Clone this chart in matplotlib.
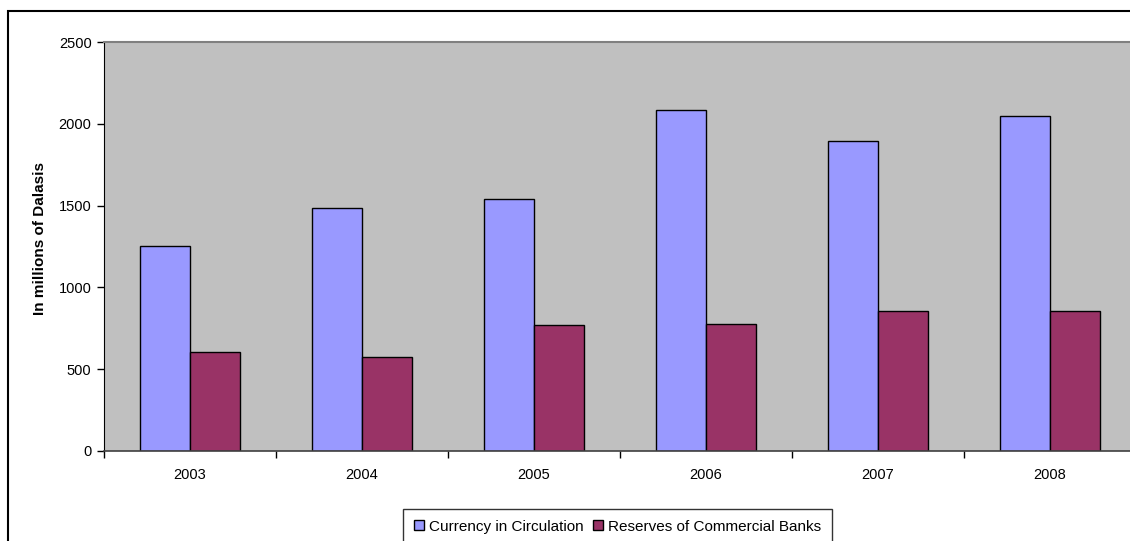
import numpy as np
import matplotlib.pyplot as plt
from matplotlib.patches import Rectangle

plt.rcParams['font.family'] = ['Liberation Sans', 'DejaVu Sans']

years = ['2003', '2004', '2005', '2006', '2007', '2008']
currency = [1255, 1483, 1540, 2084, 1895, 2046]
reserves = [603, 576, 770, 778, 856, 856]

W, H = 1130, 541
fig = plt.figure(figsize=(W / 100, H / 100), dpi=100)

# outer chart border (right and bottom edges fall outside the image)
fig.patches.append(Rectangle((8 / W, -0.05), 1.2, 1 - 11 / H + 0.05,
                             transform=fig.transFigure, fill=False,
                             edgecolor='black', linewidth=1.5))

ax = fig.add_axes([104 / W, 1 - 451 / H, 1032 / W, 409 / H])
ax.set_facecolor('#C0C0C0')

x = np.arange(len(years))
w = 0.288
ax.bar(x - w / 2, currency, w, color='#9999FF', edgecolor='black',
       linewidth=1.0, label='Currency in Circulation')
ax.bar(x + w / 2, reserves, w, color='#993366', edgecolor='black',
       linewidth=1.0, label='Reserves of Commercial Banks')

ax.set_xlim(-0.5, len(years) - 0.5)
ax.set_ylim(0, 2500)
ax.set_yticks(range(0, 2501, 500))

# major ticks on the category boundaries, labels at the centres
ax.set_xticks(np.arange(-0.5, len(years), 1.0))
ax.set_xticklabels([])
ax.set_xticks(x, minor=True)
ax.set_xticklabels(years, minor=True)
ax.tick_params(axis='x', which='minor', length=0, pad=12, labelsize=10.5)
ax.tick_params(axis='x', which='major', length=5, width=1, direction='out')
ax.tick_params(axis='y', length=5, width=1, direction='out', labelsize=10.5, pad=4)

for side in ['top', 'right']:
    ax.spines[side].set_color('#808080')
    ax.spines[side].set_linewidth(1.5)
ax.spines['left'].set_color('black')
ax.spines['bottom'].set_color('#404040')
ax.spines['bottom'].set_linewidth(1.2)

ax.set_ylabel('In millions of Dalasis', fontsize=11, fontweight='bold')
ax.yaxis.set_label_coords(-57 / 1032, 0.52)

leg = fig.legend(loc='upper left', bbox_to_anchor=(403 / W, 1 - 509 / H),
                 ncol=2, fontsize=11, frameon=True, fancybox=False,
                 handlelength=0.65, handleheight=0.65, handletextpad=0.35,
                 columnspacing=0.6, borderpad=0.7, borderaxespad=0)
leg.get_frame().set_edgecolor('black')
leg.get_frame().set_linewidth(1.0)

fig.savefig('out.png', dpi=100)
